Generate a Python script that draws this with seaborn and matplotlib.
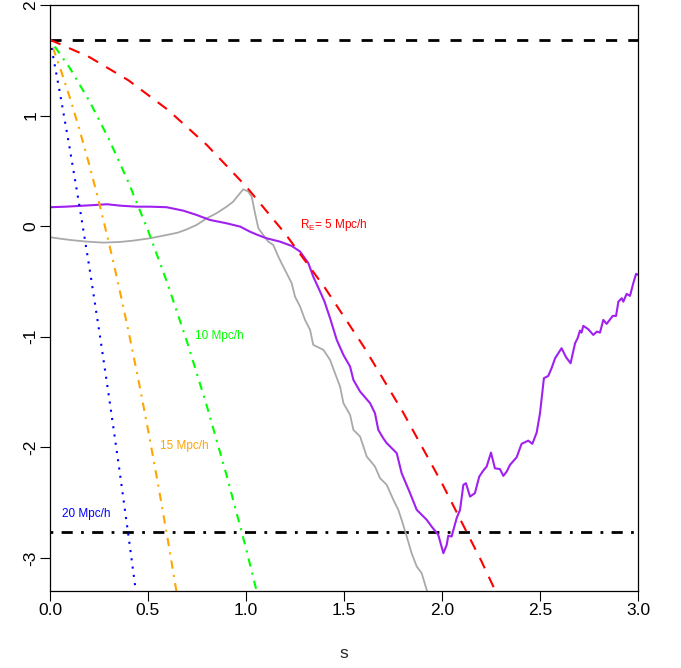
import numpy as np
import pandas as pd
import matplotlib
matplotlib.use("Agg")
import matplotlib.pyplot as plt
import seaborn as sns

# ---------------- data ----------------
delta_c = 1.686
delta_low = -2.765

red_s = [0.0, 0.2, 0.4, 0.6, 0.8, 1.0, 1.2, 1.4, 1.6, 1.8, 2.0, 2.2, 2.4]
red_y = [1.686, 1.530, 1.319, 1.054, 0.734, 0.360, -0.068, -0.551, -1.088, -1.680, -2.326, -3.026, -3.781]

green_s = [0.0, 0.1, 0.2, 0.3, 0.4, 0.5, 0.6, 0.7, 0.8, 0.9, 1.0, 1.1]
green_y = [1.686, 1.433, 1.134, 0.789, 0.398, -0.039, -0.522, -1.051, -1.626, -2.247, -2.914, -3.627]

orange_s = [0.0, 0.05, 0.1, 0.15, 0.2, 0.25, 0.3, 0.35, 0.4, 0.45, 0.5, 0.55, 0.6, 0.65, 0.7]
orange_y = [1.686, 1.439, 1.169, 0.875, 0.558, 0.217, -0.147, -0.535, -0.946, -1.381, -1.839, -2.321, -2.826, -3.355, -3.907]

blue_s = [0.0, 0.05, 0.1, 0.15, 0.2, 0.25, 0.3, 0.35, 0.4, 0.45]
blue_y = [1.686, 1.210, 0.709, 0.185, -0.364, -0.936, -1.532, -2.152, -2.796, -3.464]

gray_s = [0.00, 0.05, 0.102, 0.187, 0.272, 0.357, 0.425, 0.51, 0.595, 0.65, 0.697, 0.748, 0.80, 0.85,
          0.901, 0.935, 0.969, 0.986, 1.012, 1.029, 1.046, 1.063, 1.088, 1.114, 1.139, 1.165,
          1.19, 1.216, 1.233, 1.25, 1.276, 1.301, 1.327, 1.343, 1.395, 1.429, 1.454, 1.48,
          1.497, 1.531, 1.548, 1.582, 1.616, 1.658, 1.684, 1.718, 1.752, 1.777, 1.794, 1.82,
          1.845, 1.871, 1.896, 1.922, 1.94]
gray_y = [-0.100, -0.113, -0.125, -0.140, -0.149, -0.143, -0.131, -0.110, -0.080, -0.060, -0.030, 0.011,
          0.071, 0.117, 0.176, 0.222, 0.297, 0.333, 0.312, 0.267, 0.117, -0.019, -0.080, -0.140,
          -0.170, -0.276, -0.366, -0.456, -0.516, -0.637, -0.728, -0.848, -0.939, -1.074, -1.119,
          -1.210, -1.330, -1.451, -1.601, -1.707, -1.843, -1.903, -2.084, -2.174, -2.280, -2.340,
          -2.476, -2.566, -2.656, -2.807, -2.958, -3.078, -3.138, -3.290, -3.40]

purple_s = [0.00, 0.08, 0.15, 0.22, 0.29, 0.36, 0.44, 0.51, 0.595, 0.68, 0.748, 0.816, 0.90, 0.97,
            1.02, 1.06, 1.105, 1.173, 1.233, 1.276, 1.318, 1.343, 1.378, 1.40, 1.429, 1.463,
            1.497, 1.531, 1.548, 1.582, 1.633, 1.658, 1.675, 1.70, 1.718, 1.769, 1.794, 1.837,
            1.871, 1.922, 1.947, 1.981, 2.007, 2.024, 2.032, 2.049, 2.075, 2.092, 2.109, 2.122,
            2.143, 2.168, 2.19, 2.211, 2.228, 2.25, 2.27, 2.296, 2.313, 2.33, 2.347, 2.381,
            2.406, 2.44, 2.461, 2.483, 2.50, 2.52, 2.542, 2.559, 2.577, 2.61, 2.633, 2.656,
            2.679, 2.692, 2.704, 2.712, 2.721, 2.746, 2.772, 2.79, 2.806, 2.823, 2.84, 2.871,
            2.888, 2.90, 2.917, 2.925, 2.942, 2.959, 2.976, 2.99, 3.0]
purple_y = [0.171, 0.176, 0.183, 0.190, 0.198, 0.185, 0.176, 0.176, 0.171, 0.140, 0.101, 0.056,
            0.026, -0.004, -0.050, -0.080, -0.110, -0.140, -0.179, -0.230, -0.335, -0.456,
            -0.592, -0.680, -0.833, -1.029, -1.165, -1.270, -1.391, -1.496, -1.601, -1.692,
            -1.843, -1.918, -1.963, -2.053, -2.234, -2.415, -2.566, -2.656, -2.717, -2.792,
            -2.958, -2.883, -2.800, -2.807, -2.640, -2.566, -2.340, -2.325, -2.446, -2.415,
            -2.265, -2.210, -2.174, -2.048, -2.190, -2.198, -2.259, -2.220, -2.159, -2.090,
            -1.969, -1.940, -1.969, -1.867, -1.692, -1.375, -1.355, -1.285, -1.195, -1.104,
            -1.186, -1.240, -1.059, -1.013, -0.945, -0.963, -0.902, -0.932, -0.984, -0.954,
            -0.963, -0.848, -0.884, -0.812, -0.812, -0.683, -0.652, -0.683, -0.613, -0.631,
            -0.516, -0.432, -0.440]

x_ticks = [0.0, 0.5, 1.0, 1.5, 2.0, 2.5, 3.0]
x_ticklabels = ["0.0", "0.5", "1.0", "1.5", "2.0", "2.5", "3.0"]
y_ticks = [-3, -2, -1, 0, 1, 2]
y_ticklabels = ["-3", "-2", "-1", "0", "1", "2"]

# ---------------- style ----------------
sns.set_theme(style="ticks")
plt.rcParams['font.family'] = ['Liberation Sans', 'DejaVu Sans']
plt.rcParams['axes.unicode_minus'] = False
plt.rcParams['mathtext.fontset'] = 'custom'
plt.rcParams['mathtext.rm'] = 'Liberation Sans'
plt.rcParams['mathtext.it'] = 'Liberation Sans'

fig = plt.figure(figsize=(6.81, 6.68), dpi=100)
ax = fig.add_axes([50 / 681, 1 - 591 / 668, 588 / 681, 586 / 668])

ax.axhline(delta_c, color="black", lw=2.0, linestyle=(0, (4, 4)))
ax.axhline(delta_low, color="black", lw=2.0, linestyle=(0, (1, 3, 4, 3)))

def draw(xs, ys, color, lw, ls):
    df = pd.DataFrame({"s": xs, "v": ys})
    sns.lineplot(data=df, x="s", y="v", ax=ax, color=color, linewidth=lw,
                 estimator=None, sort=False, linestyle=ls)

draw(gray_s, gray_y, "#A9A9A9", 1.3, "-")
draw(purple_s, purple_y, "#A020F0", 1.5, "-")
draw(red_s, red_y, "#FF0000", 1.5, (0, (5.5, 4.5)))
draw(green_s, green_y, "#00FF00", 1.5, (0, (1, 3, 4, 3)))
draw(orange_s, orange_y, "#FFA500", 1.5, (0, (1, 3, 4, 3)))
draw(blue_s, blue_y, "#0000FF", 1.5, (0, (1, 3)))

ax.text(1.276, 0.01, r"R$_{\mathregular{E}}$= 5 Mpc/h", color="#FF0000", fontsize=8.5,
        ha="left", va="center")
ax.text(0.74, -0.99, "10 Mpc/h", color="#00FF00", fontsize=8.5, ha="left", va="center")
ax.text(0.561, -1.99, "15 Mpc/h", color="#FFA500", fontsize=8.5, ha="left", va="center")
ax.text(0.06, -2.60, "20 Mpc/h", color="#0000FF", fontsize=8.5, ha="left", va="center")

ax.set_xlim(0, 3)
ax.set_ylim(-3.3, 2.0)
ax.set_xticks(x_ticks)
ax.set_xticklabels(x_ticklabels)
ax.set_yticks(y_ticks)
ax.set_yticklabels(y_ticklabels)
plt.setp(ax.get_yticklabels(), rotation=90, va="center")
ax.tick_params(axis="both", direction="out", length=7.5, width=0.8, colors="black",
               labelsize=12.5, pad=1)
ax.tick_params(axis="x", pad=1)
for sp in ax.spines.values():
    sp.set_visible(True)
    sp.set_color("black")
    sp.set_linewidth(0.9)
ax.set_xlabel("s", fontsize=12.5, labelpad=20)
ax.set_ylabel("")
ax.grid(False)

fig.savefig("out.png", dpi=100)
